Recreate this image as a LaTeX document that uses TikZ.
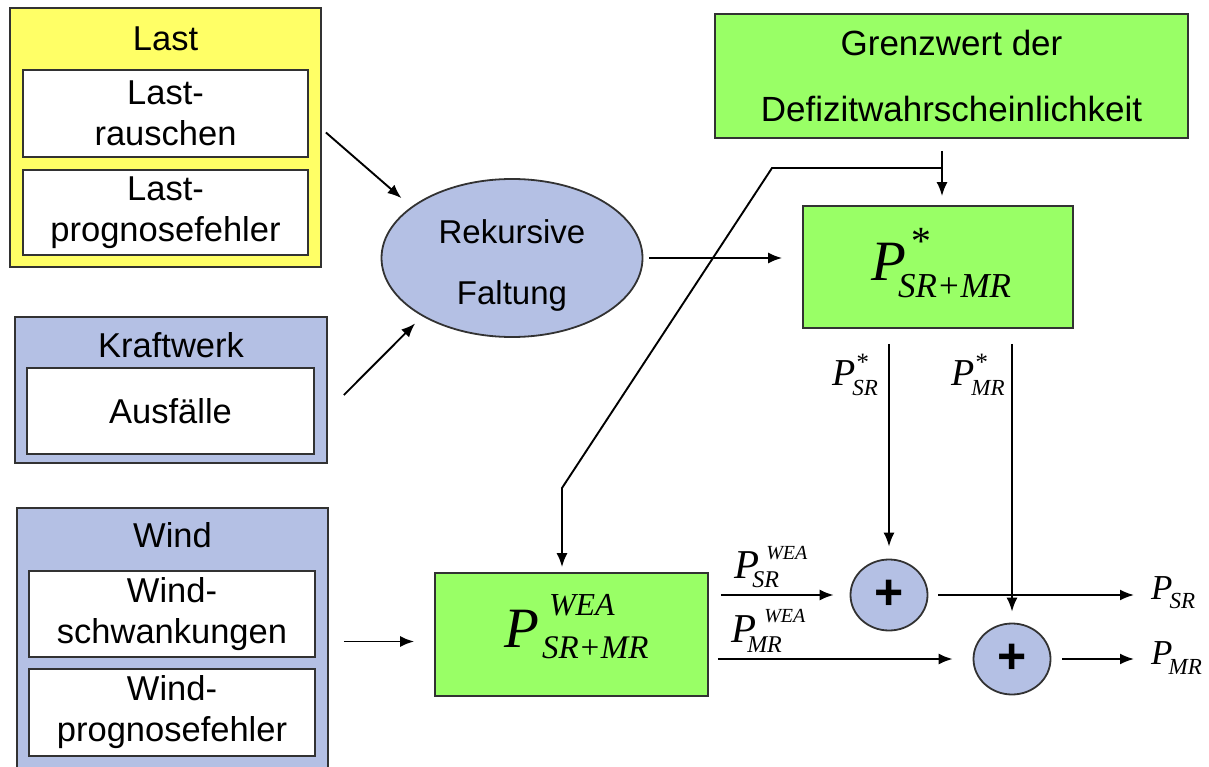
\documentclass[tikz,border=0pt]{standalone}
\usepackage{fontspec}
\setmainfont{Liberation Sans}
\newfontfamily\tms{Liberation Serif}
\usetikzlibrary{arrows.meta,shapes.geometric}
\definecolor{lastyellow}{RGB}{255,255,102}
\definecolor{lav}{RGB}{180,192,228}
\definecolor{grn}{RGB}{153,255,102}
\definecolor{bord}{RGB}{50,50,50}
% #1 P size, #2 sup size, #3 sub size, #4 sup kern, #5 sup raise, #6 sub kern, #7 sub drop, #8 sup, #9 sub
\newcommand\PV[9]{{\tms\itshape\fontsize{#1}{#1}\selectfont P}%
\makebox[0pt][l]{\hspace*{#4pt}\raisebox{#5pt}{\tms\itshape\fontsize{#2}{#2}\selectfont #8}}%
\hspace*{#6pt}\raisebox{-#7pt}{\tms\itshape\fontsize{#3}{#3}\selectfont #9}}
\begin{document}
\begin{tikzpicture}[x=1pt,y=-1pt,
 box/.style={draw=bord, line width=1.8pt, rectangle, inner sep=0pt, align=center},
 sbox/.style={box, fill=white, font=\fontsize{34.5}{41}\selectfont},
 ttl/.style={inner sep=0pt, font=\fontsize{34.5}{40}\selectfont},
 arr/.style={line width=1.9pt, -{Latex[length=14pt,width=11pt]}},
 lbl/.style={inner sep=0pt, anchor=base west},
 plusnode/.style={ellipse, draw=bord, line width=1.8pt, fill=lav, minimum width=77pt, minimum height=71pt, inner sep=0pt, font=\fontsize{50}{50}\selectfont\bfseries}
]
\useasboundingbox (0,0) rectangle (1209,767);
\clip (0,0) rectangle (1209,767);

% Last
\node[box, fill=lastyellow, minimum width=311pt, minimum height=259pt] (last) at (165.5,137.5) {};
\node[ttl] (lastt) at (165.5,38.5) {Last};
\node[sbox, minimum width=285pt, minimum height=87pt] (lastr) at (165.5,113.5) {Last-\\rauschen};
\node[sbox, minimum width=285pt, minimum height=85pt] (lastp) at (165.5,212.5) {Last-\\prognosefehler};

% Kraftwerk
\node[box, fill=lav, minimum width=312pt, minimum height=146pt] (kw) at (171,390) {};
\node[ttl] (kwt) at (171,345) {Kraftwerk};
\node[sbox, minimum width=287pt, minimum height=86pt] (ausf) at (170.5,411) {Ausfälle};

% Wind
\node[box, fill=lav, minimum width=311pt, minimum height=267pt] (wind) at (172.5,641.5) {};
\node[ttl] (windt) at (172.5,535) {Wind};
\node[sbox, minimum width=286pt, minimum height=86pt] (winds) at (172,614) {Wind-\\schwankungen};
\node[sbox, minimum width=286pt, minimum height=87pt] (windp) at (172,712.5) {Wind-\\prognosefehler};

% Rekursive Faltung
\node[ellipse, draw=bord, line width=1.8pt, fill=lav, minimum width=261pt, minimum height=158pt, inner sep=0pt] (rek) at (512,258) {};
\node[inner sep=0pt, align=center, font=\fontsize{33}{61}\selectfont] (rekt) at (512,265) {Rekursive\\Faltung};

% Grenzwert
\node[box, fill=grn, minimum width=473pt, minimum height=124pt, font=\fontsize{35}{66}\selectfont] (grenz) at (951.5,76) {Grenzwert der\\Defizitwahrscheinlichkeit};

% P* box
\node[box, fill=grn, minimum width=270pt, minimum height=122pt] (pstar) at (938,267) {};
\node[lbl] (pstart) at (871,280) {\PV{57}{40}{35}{3}{26}{-8}{17}{*}{SR+MR}};

% P WEA box
\node[box, fill=grn, minimum width=273pt, minimum height=123pt] (pwea) at (571.5,634.5) {};
\node[lbl] (pweat) at (504,647) {\PV{57}{32}{33}{10}{32}{3}{11}{WEA}{SR+MR}};

% plus circles
\node[plusnode] (plus1) at (889,595) {+};
\node[plusnode] (plus2) at (1012,659) {+};

% labels
\node[lbl] (lsrs) at (832,385) {\PV{38}{25}{23}{0}{15}{-3}{10}{*}{SR}};
\node[lbl] (lmrs) at (951,385) {\PV{38}{25}{23}{0}{15}{-3}{10}{*}{MR}};
\node[lbl] (lsrw) at (734,578) {\PV{41}{20}{24}{7}{19}{-7}{9}{WEA}{SR}};
\node[lbl] (lmrw) at (731,642) {\PV{41}{20}{24}{8}{20}{-9}{10}{WEA}{MR}};
\node[lbl] (psr) at (1151,599) {\PV{35}{18}{23}{0}{0}{-3}{9}{}{SR}};
\node[lbl] (pmr) at (1151,664) {\PV{35}{18}{23}{0}{0}{-4}{10}{}{MR}};

% connectors
\coordinate (gsplit) at (942,168);
\coordinate (bendA) at (772,168);
\coordinate (bendB) at (562,488);

\draw[arr, shorten >=13pt] ([xshift=4pt,yshift=5pt]last.east) -- (rek.153);
\draw[arr, shorten >=10pt] ([xshift=16pt,yshift=-5pt]kw.east) -- (rek.213);
\draw[arr, shorten <=6pt, shorten >=20pt] (rek.east) -- (rek.east -| pstar.west);
\draw[arr, shorten <=15pt, shorten >=20pt] (wind.east) -- (wind.east -| pwea.west);
\draw[arr, shorten <=12pt, shorten >=9pt] (grenz.south -| gsplit) -- (pstar.north -| gsplit);
\draw[arr, shorten >=5pt] (gsplit) -- (bendA) -- (bendB) -- (bendB |- pwea.north);
\draw[arr, shorten <=15pt, shorten >=12pt] (pstar.south -| plus1.north) -- (plus1.north);
\draw[arr, shorten <=15pt, shorten >=11pt] (pstar.south -| plus2.north) -- (plus2.north);
\draw[arr, shorten <=12pt, shorten >=16pt] (pwea.east |- plus1.west) -- (plus1.west);
\draw[arr, shorten <=9pt, shorten >=20pt] (pwea.east |- plus2.west) -- (plus2.west);
\draw[arr, shorten <=10pt, shorten >=17pt] (plus1.east) -- (plus1.east -| psr.west);
\draw[arr, shorten <=11pt, shorten >=17pt] (plus2.east) -- (plus2.east -| pmr.west);
\end{tikzpicture}
\end{document}
